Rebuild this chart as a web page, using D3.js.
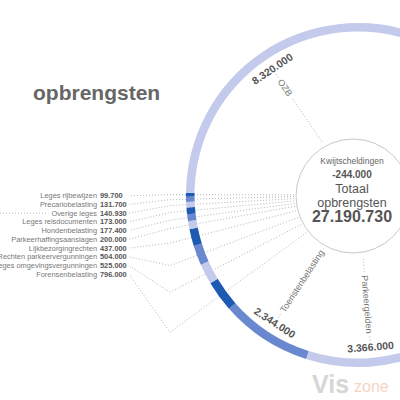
<!doctype html>
<html>
<head>
<meta charset="utf-8">
<title>opbrengsten</title>
<script src="https://d3js.org/d3.v7.min.js"></script>
<style>
  body { margin: 0; background: #fff; }
  text { font-family: "Liberation Sans", Arial, sans-serif; }
  .dots { fill: none; stroke: #b5b5b5; stroke-width: 1; stroke-dasharray: 1,2; }
</style>
</head>
<body>
<div id="chart"></div>
<script>

// ring segments, clockwise, starting with Parkeergelden
var names = ["Parkeergelden", "Toeristenbelasting", "Forensenbelasting",
             "Leges omgevingsvergunningen", "Rechten parkeervergunningen",
             "Lijkbezorgingrechten", "Parkeerhaffingsaanslagen", "Hondenbelasting",
             "Leges reisdocumenten", "Overige leges", "Precariobelasting",
             "Leges rijbewijzen", "OZB"];
var values = [3366000, 2344000, 796000, 525000, 504000, 437000, 200000,
              177400, 173000, 140930, 131700, 99700, 8320000];
var totaal = 27190730;
var kwijtschelding = -244000;
var kwijtLabel = "Kwijtscheldingen";
var totaalLines = ["Totaal", "opbrengsten"];
var title = "opbrengsten";

// layout
var width = 400, height = 400;
var cx = 358, cy = 195;             // ring centre
var rOuter = 172, rInner = 163.5;
var startDeg = 153;                 // where Parkeergelden starts
var ix = 353, iy = 196, ir = 57;    // inner circle
var listX = 97, listTop = 195.7, rowH = 8.73, elbowX = 170;

var nl = d3.formatLocale({decimal: ",", thousands: ".", grouping: [3], currency: ["", ""], minus: "-"});
var fmt = nl.format(",");

var svg = d3.select("#chart").append("svg")
    .attr("width", width)
    .attr("height", height);

// value -> angle
var a0 = startDeg * Math.PI / 180;
var angle = d3.scaleLinear().domain([0, totaal]).range([a0, a0 + 2 * Math.PI]);

var color = d3.scaleOrdinal().domain([0, 1, 2]).range(["#c3caec", "#6a88cf", "#1d5ab1"]);

var segs = [], acc = 0;
values.forEach(function(v, i) {
  segs.push({name: names[i], value: v, i: i, startAngle: angle(acc), endAngle: angle(acc + v)});
  acc += v;
});
var rest = {i: 0, startAngle: angle(acc), endAngle: angle(totaal)};

function pt(a, r) { return [cx + r * Math.sin(a), cy - r * Math.cos(a)]; }
function mid(d) { return (d.startAngle + d.endAngle) / 2; }

var small = segs.filter(function(d) { return d.value < 1000000; });
var big = segs.filter(function(d) { return d.value >= 1000000; });

// list order: smallest on top
var listed = small.slice().sort(function(a, b) { return a.value - b.value; });
var rowY = d3.scalePoint().domain(listed.map(function(d) { return d.name; }))
    .range([listTop, listTop + rowH * (listed.length - 1)]);

// leader lines for the small ones
svg.append("g").selectAll("path")
  .data(listed)
  .enter().append("path")
    .attr("class", "dots")
    .attr("d", function(d) {
      var a = mid(d);
      var re = (elbowX - cx) / Math.sin(a);
      var p0 = pt(a, 64), p1 = pt(a, re);
      return "M" + p0 + "L" + p1 + "L" + (listX + 32) + "," + rowY(d.name);
    });

// ring
var arc = d3.arc().innerRadius(rInner).outerRadius(rOuter);
var ring = svg.append("g").attr("transform", "translate(" + cx + "," + cy + ")");
ring.selectAll("path")
  .data(segs.concat([rest]))
  .enter().append("path")
    .attr("d", arc)
    .style("fill", function(d) { return color(d.i % 3); });

// inner circle
svg.append("circle")
    .attr("cx", ix).attr("cy", iy).attr("r", ir)
    .style("fill", "#fff")
    .style("stroke", "#c8c8c8")
    .style("stroke-width", 1);

// list labels
var list = svg.append("g");
list.selectAll(".lname")
  .data(listed)
  .enter().append("text")
    .attr("class", "lname")
    .attr("x", listX)
    .attr("y", function(d) { return rowY(d.name); })
    .attr("dy", "0.35em")
    .style("text-anchor", "end")
    .style("font-size", "7.4px")
    .style("fill", "#777")
    .text(function(d) { return d.name; });
list.selectAll(".lval")
  .data(listed)
  .enter().append("text")
    .attr("class", "lval")
    .attr("x", listX + 3)
    .attr("y", function(d) { return rowY(d.name); })
    .attr("dy", "0.35em")
    .style("font-size", "7.4px")
    .style("font-weight", "bold")
    .style("fill", "#555")
    .text(function(d) { return fmt(d.value); });

// stray leader on the far left (Overige leges row)
var ov = list.selectAll(".lname").filter(function(d) { return d.name == "Overige leges"; });
var ovBox = ov.node().getBBox();
svg.append("path")
    .attr("class", "dots")
    .attr("d", "M0," + rowY("Overige leges") + "H" + (ovBox.x - 4));

// radial labels for the big segments
big.forEach(function(d) {
  var a = mid(d);
  var deg = (a * 180 / Math.PI) % 360;
  var inward = deg > 180;
  var rot = inward ? deg - 270 : deg - 90;
  var p = pt(a, 139);
  var t = svg.append("text")
      .attr("transform", "translate(" + p + ") rotate(" + rot + ")")
      .attr("dy", "0.35em")
      .style("text-anchor", inward ? "start" : "end")
      .style("font-size", "9px")
      .style("fill", "#777")
      .text(d.name);
  var len = t.node().getComputedTextLength();
  svg.append("path").attr("class", "dots")
      .attr("d", "M" + pt(a, 64) + "L" + pt(a, 139 - len - 3));
  svg.append("path").attr("class", "dots")
      .attr("d", "M" + pt(a, 142) + "L" + pt(a, 146));

  var vrot = (deg > 90 && deg < 270) ? deg - 180 : (deg > 180 ? deg - 360 : deg);
  var q = pt(a, 152.5);
  svg.append("text")
      .attr("transform", "translate(" + q + ") rotate(" + vrot + ")")
      .attr("dy", "0.35em")
      .style("text-anchor", "middle")
      .style("font-size", "10.5px")
      .style("font-weight", "bold")
      .style("fill", "#555")
      .text(fmt(d.value));
});

// centre texts
var c = svg.append("g").style("text-anchor", "middle").style("fill", "#555");
c.append("text").attr("x", ix - 1).attr("y", 160.7).attr("dy", "0.35em")
    .style("font-size", "8.5px").style("fill", "#666").text(kwijtLabel);
c.append("text").attr("x", ix - 1).attr("y", 174).attr("dy", "0.35em")
    .style("font-size", "10px").style("font-weight", "bold").text(fmt(kwijtschelding));
c.selectAll(".tl")
  .data(totaalLines)
  .enter().append("text")
    .attr("class", "tl")
    .attr("x", ix - 1)
    .attr("y", function(d, i) { return 188.3 + i * 14; })
    .attr("dy", "0.35em")
    .style("font-size", "12.5px")
    .text(function(d) { return d; });
c.append("text").attr("x", ix - 1).attr("y", 216.7).attr("dy", "0.35em")
    .style("font-size", "16px").style("font-weight", "bold").text(fmt(totaal));

// title
svg.append("text")
    .attr("x", 33).attr("y", 99.5)
    .style("font-size", "21px")
    .style("font-weight", "bold")
    .style("fill", "#666")
    .text(title);

// watermark
svg.append("text")
    .attr("x", 312).attr("y", 393)
    .style("font-size", "25px").style("font-weight", "bold").style("fill", "#d6d6d6")
    .text("Vis");
svg.append("text")
    .attr("x", 354).attr("y", 392)
    .style("font-size", "16px").style("fill", "#f5d5c2")
    .text("zone");

</script>
</body>
</html>
